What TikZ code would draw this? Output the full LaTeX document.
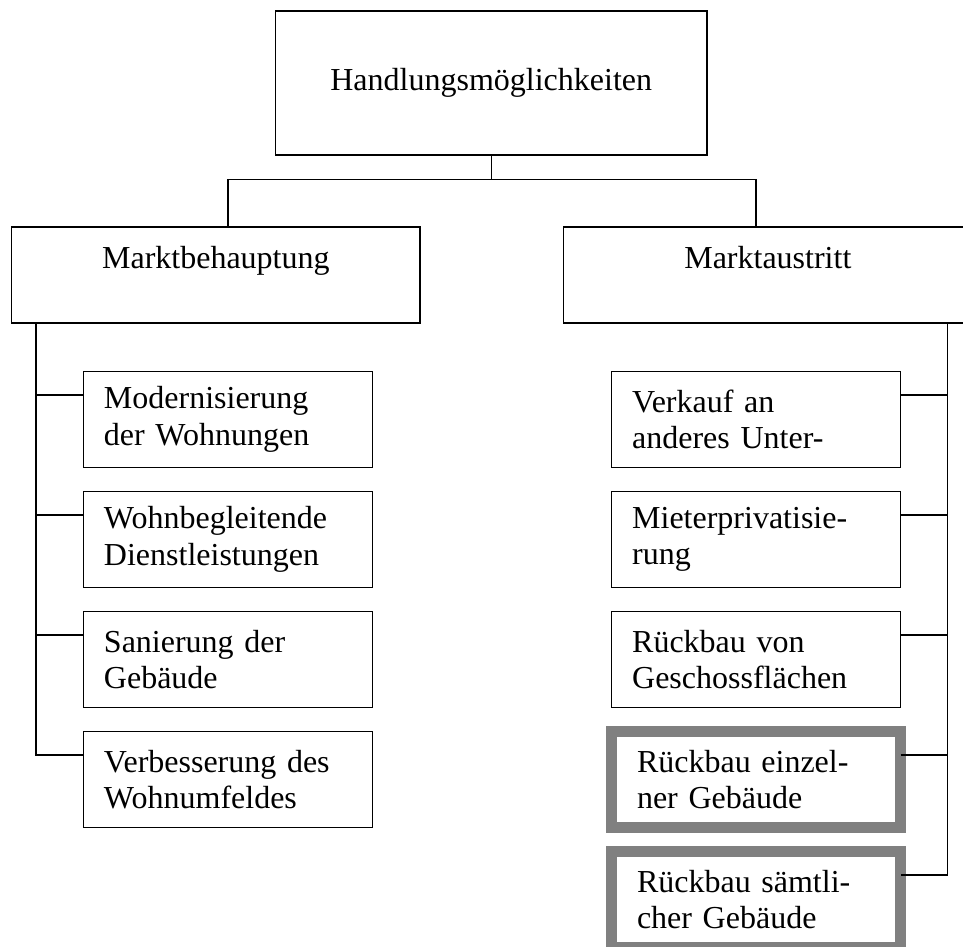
\documentclass[tikz,border=0pt]{standalone}
\usepackage{fontspec}
\setmainfont{Liberation Serif}
\usetikzlibrary{positioning,calc}
\definecolor{exitgray}{RGB}{128,128,128}
\tikzset{
  box/.style={draw, line width=1pt, outer sep=0pt, minimum height=72pt,
    font=\fontsize{24pt}{27.5pt}\selectfont},
  headbox/.style={box, align=center, minimum width=306.2pt},
  itembox/.style={box, align=left, inner xsep=15.5pt, text width=185.75pt, minimum width=216.75pt},
  exitbox/.style={itembox, draw=exitgray, line width=7.9pt, inner xsep=19pt, text width=178.5pt}
}

\begin{document}
\begin{tikzpicture}[x=0.75pt,y=0.75pt,yscale=-1,xscale=1]
\useasboundingbox (0,0) rectangle (963,946);

%Shape: Rectangle [id:top]
\node[box, minimum width=323.8pt, minimum height=108pt] (hm) at (491.2,83) {Handlungsmöglichkeiten};

%Shape: Rectangle [id:left head]
\node[headbox] (mb) at (215.85,275) {Marktbehauptung\\[-9pt]\strut};
%Shape: Rectangle [id:right head]
\node[headbox] (ma) at (767.85,275) {Marktaustritt\\[-9pt]\strut};

% Text Node
\node[itembox] (m1) at (227.8,419.5) {Modernisierung\\der Wohnungen};
% Text Node
\node[itembox] (m2) at (227.8,539.5) {Wohnbegleitende\\Dienstleistungen};
% Text Node
\node[itembox] (m3) at (227.8,659.5) {Sanierung der\\Gebäude};
% Text Node
\node[itembox] (m4) at (227.8,779.5) {Verbesserung des\\Wohnumfeldes};

% Text Node
\node[itembox] (a1) at (756,419.5) {Verkauf an\\anderes Unter-};
% Text Node
\node[itembox] (a2) at (756,539.5) {Mieterprivatisie-\\rung};
% Text Node
\node[itembox] (a3) at (756,659.5) {Rückbau von\\Geschossflächen};
% Text Node
\node[exitbox] (a4) at (756,779.5) {Rückbau einzel-\\ner Gebäude};
% Text Node
\node[exitbox] (a5) at (756,899.5) {Rückbau sämtli-\\cher Gebäude};

%Straight Lines [id:top split]
\coordinate (split) at (491.7,179.3);
\draw[line width=1pt] (hm.south) -- (hm.south |- split);
\draw[line width=1pt] ($(mb.north)+(12,0)$) |- (split) -| ($(ma.north)+(-12,0)$);

%Straight Lines [id:left spine]
\coordinate (lspine) at ($(mb.south west)+(24.3,0)$);
\foreach \i in {1,...,4}
  \coordinate (m\i b) at ($(m\i.north west)+(0,23.4)$);
\draw[line width=1pt] (lspine) |- (m4b);
\foreach \i in {1,...,3}
  \draw[line width=1pt] (m\i b) -- (m\i b -| lspine);

%Straight Lines [id:right spine]
\coordinate (rspine) at ($(ma.south east)+(-24.3,0)$);
\foreach \i in {1,...,5}
  \coordinate (a\i b) at ($(a\i.north east)+(0,23.4)$);
\draw[line width=1pt] (rspine) |- (a5b);
\foreach \i in {1,...,4}
  \draw[line width=1pt] (a\i b) -- (a\i b -| rspine);

\end{tikzpicture}
\end{document}
